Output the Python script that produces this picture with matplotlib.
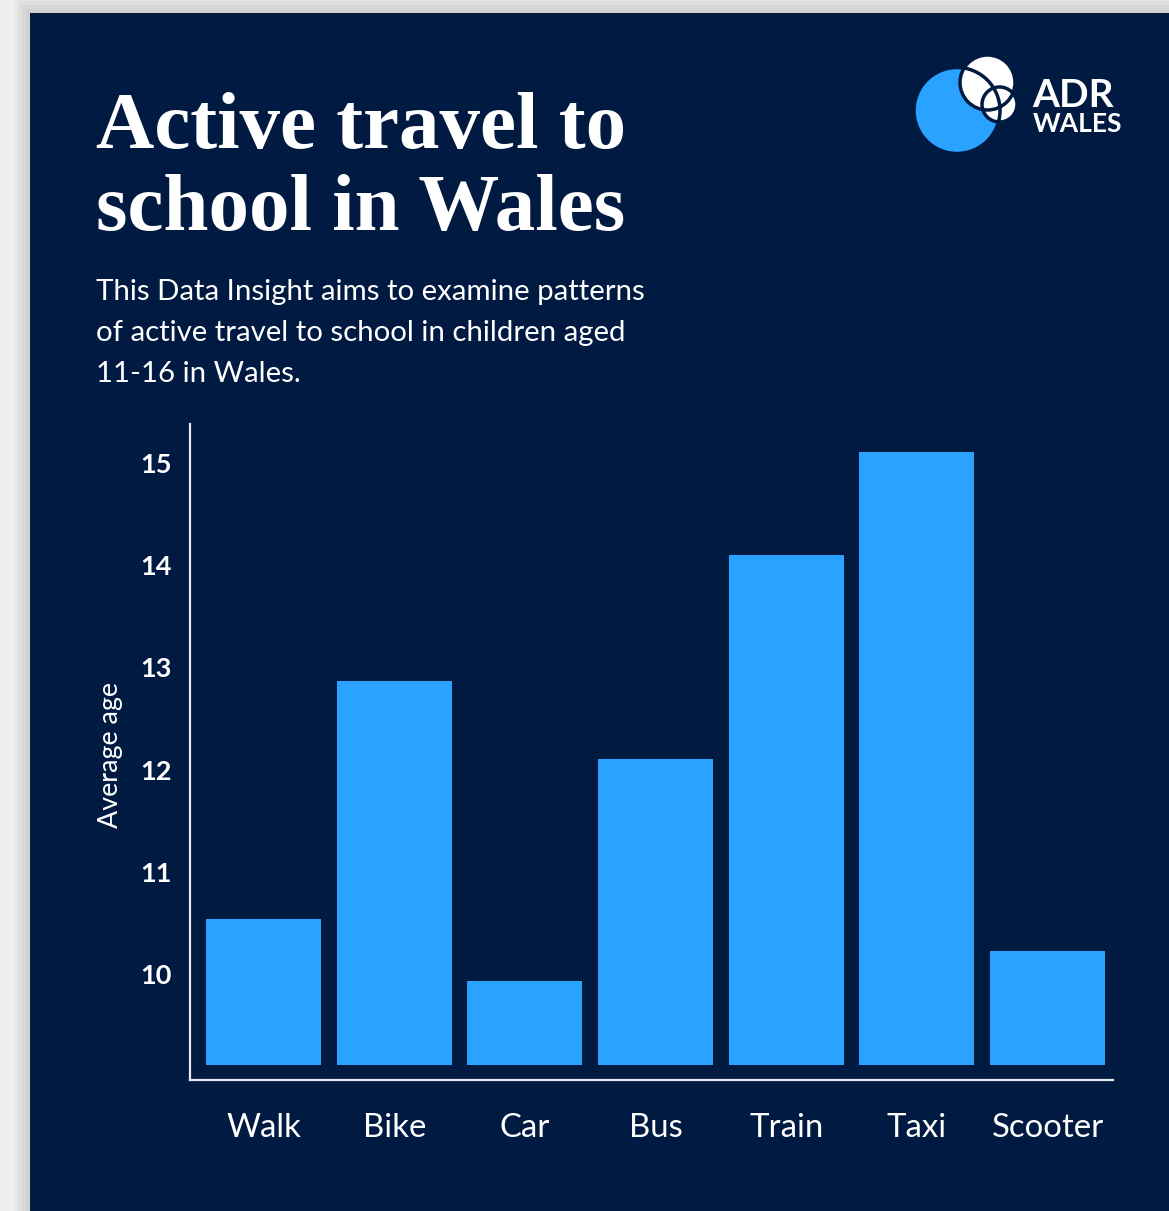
import matplotlib.pyplot as plt
from matplotlib.patches import Rectangle, Circle

# -------------------------
# DATA
# -------------------------
modes = ["Walk", "Bike", "Car", "Bus", "Train", "Taxi", "Scooter"]
avg_age = [10.54, 12.87, 9.93, 12.10, 14.10, 15.11, 10.23]
bar_base = 9.11
y_ticks = [10, 11, 12, 13, 14, 15]

title_lines = ["Active travel to", "school in Wales"]
subtitle_lines = ["This Data Insight aims to examine patterns",
                  "of active travel to school in children aged",
                  "11-16 in Wales."]

NAVY = "#011a41"
BLUE = "#29a3ff"
W, H = 1169, 1211

fig = plt.figure(figsize=(W / 100, H / 100), dpi=100)
fig.patch.set_facecolor("#efefef")


def fx(px):
    return px / W


def fy(py):
    return 1 - py / H


# panel shadow + panel
for i in range(4):
    off = (i + 1) * 4
    fig.patches.append(Rectangle((fx(30 - off), 0), fx(W), fy(13 - off),
                                 transform=fig.transFigure, color="black",
                                 alpha=0.03, lw=0, zorder=0))
fig.patches.append(Rectangle((fx(30), 0), fx(W - 30), fy(13),
                             transform=fig.transFigure, color=NAVY, lw=0, zorder=1))

# -------------------------
# TEXT
# -------------------------
for i, line in enumerate(title_lines):
    fig.text(fx(96), fy(148 + i * 82), line, fontsize=58.2, fontweight="bold",
             family="Liberation Serif", color="white", va="baseline", zorder=3)
for i, line in enumerate(subtitle_lines):
    fig.text(fx(96), fy(300 + i * 41), line, fontsize=21.2, family="Lato",
             color="white", va="baseline", zorder=3)

# -------------------------
# LOGO
# -------------------------
logo = fig.add_axes([fx(905), fy(165), fx(120), fy(45) - fy(165)])
logo.set_zorder(3)
logo.set_xlim(905, 1025)
logo.set_ylim(165, 45)
logo.set_aspect("equal")
logo.axis("off")
logo.add_patch(Circle((957, 110.5), 43, color=BLUE, lw=0))
logo.add_patch(Circle((987.5, 82.5), 27.5, color="white", lw=0))
logo.add_patch(Circle((999.5, 104.5), 17.5, color="white", lw=0))
for c, r in [((957, 110.5), 43), ((987.5, 82.5), 27.5), ((999.5, 104.5), 17.5)]:
    logo.add_patch(Circle(c, r, facecolor="none", edgecolor=NAVY, lw=2.5))
fig.text(fx(1032), fy(107), "ADR", fontsize=28, fontweight="bold",
         family="Lato", color="white", va="baseline", zorder=4)
fig.text(fx(1033), fy(132), "WALES", fontsize=19, fontweight="bold",
         family="Lato", color="white", va="baseline", zorder=4)

# -------------------------
# CHART
# -------------------------
ax = fig.add_axes([fx(190), fy(1080), fx(1113) - fx(190), fy(424) - fy(1080)])
ax.set_facecolor("none")
ax.set_zorder(3)

x = range(len(modes))
heights = [v - bar_base for v in avg_age]
ax.bar(x, heights, bottom=bar_base, width=0.88, color=BLUE, lw=0)

ax.set_xlim(-0.563, 6.5)
ax.set_ylim(8.963, 15.382)
ax.set_yticks(y_ticks)
ax.set_yticklabels([str(t) for t in y_ticks], fontsize=19.5, fontweight="bold",
                   family="Lato", color="white")
ax.set_xticks(list(x))
ax.set_xticklabels(modes, fontsize=23.7, family="Lato", color="white")
ax.tick_params(axis="y", length=0, pad=13)
ax.tick_params(axis="x", length=0, pad=24)

for side in ["top", "right"]:
    ax.spines[side].set_visible(False)
for side in ["left", "bottom"]:
    ax.spines[side].set_color("#e8e8ee")
    ax.spines[side].set_linewidth(1.6)

ax.set_ylabel("Average age", fontsize=19.4, family="Lato", color="white")
ax.yaxis.set_label_coords(-0.0726, 0.495)

fig.savefig("out.png", dpi=100, facecolor=fig.get_facecolor())
